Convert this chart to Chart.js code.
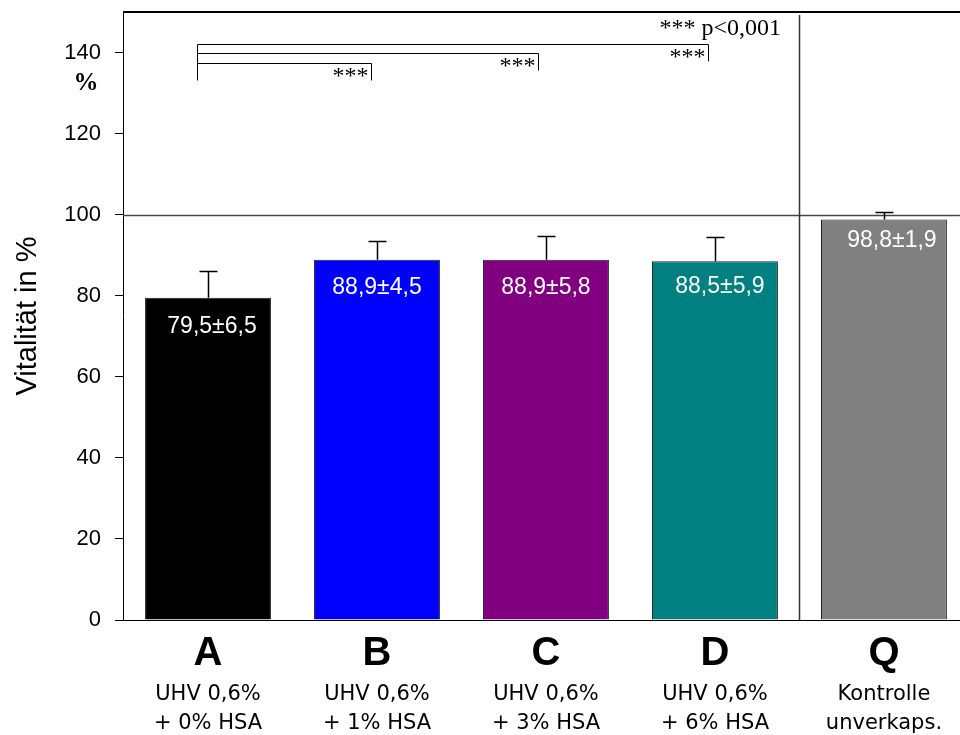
<!DOCTYPE html>
<html>
<head>
<meta charset="utf-8">
<script src="https://cdn.jsdelivr.net/npm/chart.js@4"></script>
<style>
  html, body { margin: 0; padding: 0; background: #fff; overflow: hidden; }
  #wrap { width: 960px; height: 735px; }
</style>
</head>
<body>
<div id="wrap"><canvas id="vitalChart" width="960" height="735"></canvas></div>
<script>
// Daten aus der Abbildung
const groups = ['A', 'B', 'C', 'D', 'Q'];
const groupLine1 = ['UHV 0,6%', 'UHV 0,6%', 'UHV 0,6%', 'UHV 0,6%', 'Kontrolle'];
const groupLine2 = ['+ 0% HSA', '+ 1% HSA', '+ 3% HSA', '+ 6% HSA', 'unverkaps.'];
const means = [79.5, 88.9, 88.9, 88.5, 98.8];
const sds = [6.5, 4.5, 5.8, 5.9, 1.9];
const barColors = ['#000000', '#0000ff', '#800080', '#008080', '#808080'];
const yTicks = [0, 20, 40, 60, 80, 100, 120, 140];
const sigLabel = '*** p<0,001';

const fmt = v => v.toFixed(1).replace('.', ',');

// Zeichnet Fehlerbalken, Werte, Achsenbeschriftungen und Signifikanzklammern
const extrasPlugin = {
    id: 'extras',
    beforeDatasetsDraw(chart) {
        const { ctx, chartArea, scales: { x, y } } = chart;
        ctx.save();
        // Referenzlinie bei 100 %
        ctx.strokeStyle = '#444';
        ctx.lineWidth = 1.5;
        ctx.beginPath();
        ctx.moveTo(chartArea.left, Math.round(y.getPixelForValue(100)) + 0.5);
        ctx.lineTo(chartArea.right, Math.round(y.getPixelForValue(100)) + 0.5);
        ctx.stroke();
        // Trennlinie vor der Kontrolle
        const sx = Math.round(x.getPixelForValue(3.5)) + 0.5;
        ctx.strokeStyle = '#333';
        ctx.beginPath();
        ctx.moveTo(sx, chartArea.top + 3);
        ctx.lineTo(sx, chartArea.bottom);
        ctx.stroke();
        ctx.restore();
    },
    afterDatasetsDraw(chart) {
        const { ctx, chartArea, scales: { x, y } } = chart;
        ctx.save();

        // Fehlerbalken
        ctx.strokeStyle = '#000';
        ctx.lineWidth = 1.5;
        means.forEach((m, i) => {
            const cx = Math.round(x.getPixelForValue(i)) + 0.5;
            const y0 = y.getPixelForValue(m);
            const y1 = Math.round(y.getPixelForValue(m + sds[i])) + 0.5;
            ctx.beginPath();
            ctx.moveTo(cx, y0);
            ctx.lineTo(cx, y1);
            ctx.moveTo(cx - 9, y1);
            ctx.lineTo(cx + 9, y1);
            ctx.stroke();
        });

        // Werte in den Balken
        const shiftX = [4, 0, 0, 5, 8];
        const shiftY = [29, 28, 28, 25, 21];
        ctx.fillStyle = '#fff';
        ctx.font = '23px "Liberation Sans", Arial, sans-serif';
        ctx.textAlign = 'center';
        ctx.textBaseline = 'middle';
        means.forEach((m, i) => {
            const cx = x.getPixelForValue(i) + shiftX[i];
            const cy = y.getPixelForValue(m) + shiftY[i];
            ctx.fillText(fmt(m) + '±' + fmt(sds[i]), cx, cy);
        });

        // Kategorien unter der Achse
        ctx.fillStyle = '#000';
        groups.forEach((g, i) => {
            const cx = x.getPixelForValue(i);
            ctx.font = 'bold 40px "Liberation Sans", Arial, sans-serif';
            ctx.fillText(g, cx, 654);
            ctx.font = '21px "DejaVu Sans", Verdana, sans-serif';
            ctx.fillText(groupLine1[i], cx, 695);
            ctx.fillText(groupLine2[i], cx, 724);
        });

        // Signifikanzklammern
        const brackets = [
            { to: 2.959, yv: 142.1, drop: 17 },
            { to: 1.953, yv: 139.9, drop: 17 },
            { to: 0.964, yv: 137.3, drop: 17 }
        ];
        const startX = Math.round(x.getPixelForValue(-0.065)) + 0.5;
        ctx.strokeStyle = '#000';
        ctx.lineWidth = 1;
        ctx.font = '24px "Liberation Serif", "Times New Roman", serif';
        ctx.textAlign = 'right';
        ctx.textBaseline = 'alphabetic';
        let lowest = 0;
        brackets.forEach(b => {
            const yy = Math.round(y.getPixelForValue(b.yv)) + 0.5;
            const ex = Math.round(x.getPixelForValue(b.to)) + 0.5;
            ctx.beginPath();
            ctx.moveTo(startX, yy);
            ctx.lineTo(ex, yy);
            ctx.lineTo(ex, yy + b.drop);
            ctx.stroke();
            ctx.fillText('***', ex - 3, yy + 19);
            lowest = Math.max(lowest, yy + b.drop);
        });
        ctx.beginPath();
        ctx.moveTo(startX, Math.round(y.getPixelForValue(brackets[0].yv)) + 0.5);
        ctx.lineTo(startX, lowest);
        ctx.stroke();
        ctx.fillText(sigLabel, 781, 35);

        // obere Rahmenlinie
        ctx.lineWidth = 2;
        ctx.beginPath();
        ctx.moveTo(chartArea.left, chartArea.top);
        ctx.lineTo(chartArea.right, chartArea.top);
        ctx.stroke();

        // Prozentzeichen unter 140
        ctx.textAlign = 'center';
        ctx.textBaseline = 'middle';
        ctx.font = 'bold 25px "Liberation Serif", "Times New Roman", serif';
        ctx.fillText('%', 86, 84);
        ctx.restore();
    }
};

const ctx = document.getElementById('vitalChart').getContext('2d');
new Chart(ctx, {
    type: 'bar',
    data: {
        datasets: [{
            data: means.map((m, i) => ({ x: i, y: m })),
            backgroundColor: barColors,
            borderColor: '#222',
            borderWidth: 1,
            borderSkipped: 'bottom',
            categoryPercentage: 1,
            barPercentage: 0.745
        }]
    },
    options: {
        responsive: false,
        animation: false,
        layout: { padding: { top: 12, left: 0, right: 0, bottom: 0 } },
        plugins: {
            legend: { display: false },
            tooltip: { enabled: false }
        },
        scales: {
            x: {
                type: 'linear',
                offset: false,
                min: -0.503,
                max: 4.45,
                afterBuildTicks: scale => {
                    scale.ticks = groups.map((g, i) => ({ value: i }));
                },
                grid: { display: false },
                border: { display: true, color: '#000', width: 1 },
                ticks: { display: false },
                afterFit: scale => {
                    scale.height = 115;
                    scale.paddingLeft = 0;
                    scale.paddingRight = 0;
                }
            },
            y: {
                min: 0,
                max: 150,
                afterBuildTicks: scale => {
                    scale.ticks = yTicks.map(v => ({ value: v }));
                },
                grid: {
                    drawOnChartArea: false,
                    drawTicks: true,
                    tickLength: 8,
                    color: '#000'
                },
                border: { display: true, color: '#000', width: 1 },
                ticks: {
                    color: '#000',
                    padding: 14,
                    font: { family: '"Liberation Sans", Arial, sans-serif', size: 22 }
                },
                title: {
                    display: true,
                    text: 'Vitalität in %',
                    color: '#000',
                    font: { family: '"Liberation Sans", Arial, sans-serif', size: 29 },
                    padding: { top: 11, bottom: 0 }
                },
                afterFit: scale => {
                    scale.width = 123;
                    scale.paddingTop = 0;
                    scale.paddingBottom = 0;
                }
            }
        }
    },
    plugins: [extrasPlugin]
});
</script>
</body>
</html>
